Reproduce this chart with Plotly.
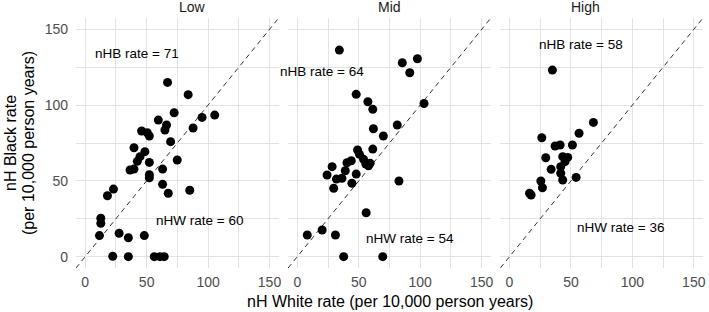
import plotly.graph_objects as go
from plotly.subplots import make_subplots

panels = ["Low", "Mid", "High"]

low_white = [67.0, 83.8, 72.4, 95.1, 105.4, 59.5, 66.2, 64.9, 87.8, 45.9, 50.5, 52.2, 69.5, 39.7,
             48.6, 44.6, 42.4, 52.2, 74.9, 36.5, 39.7, 63.0, 52.2, 52.2, 63.0, 67.6, 85.1, 23.0,
             18.1, 12.7, 12.7, 11.6, 27.6, 35.1, 48.1, 22.4, 35.1, 56.2, 60.8, 64.3]
low_black = [115.0, 106.9, 95.0, 91.9, 93.4, 90.1, 86.9, 83.6, 84.9, 82.9, 81.8, 79.6, 75.9, 71.9,
             69.3, 66.0, 62.9, 62.2, 63.8, 57.2, 57.8, 57.8, 54.1, 52.1, 47.7, 41.8, 43.8, 44.6,
             40.2, 25.3, 22.0, 13.9, 15.4, 12.5, 13.9, 0.2, 0.0, 0.0, 0.0, 0.0]

mid_white = [34.2, 85.4, 97.7, 91.5, 47.9, 57.4, 61.4, 103.1, 61.9, 81.3, 70.0, 61.4, 49.0, 50.6,
             43.9, 53.9, 55.7, 59.2, 28.3, 39.0, 47.9, 24.2, 31.8, 36.3, 44.4, 29.6, 82.7, 56.0,
             8.1, 20.2, 31.0, 37.7, 69.5, 57.9, 40.4]
mid_black = [136.3, 128.0, 130.6, 121.4, 107.1, 102.2, 97.2, 101.1, 84.4, 86.9, 79.6, 71.0, 70.4, 67.5,
             63.3, 64.2, 61.1, 61.6, 59.4, 56.7, 54.5, 53.9, 51.2, 51.7, 48.4, 45.1, 49.9, 29.0,
             14.3, 17.6, 14.3, 0.0, 0.0, 60.0, 62.0]

high_white = [34.9, 68.3, 56.6, 26.3, 37.1, 41.2, 51.2, 29.5, 43.3, 47.4, 45.2, 33.9, 41.7, 41.7,
              43.3, 54.2, 25.5, 26.8, 16.3, 17.6]
high_black = [123.1, 88.6, 81.4, 78.5, 73.0, 73.7, 73.7, 65.3, 66.0, 65.5, 62.7, 57.6, 59.4, 55.0,
              50.6, 52.3, 49.9, 45.5, 41.8, 40.7]

nhb_rates = [71, 64, 58]
nhw_rates = [60, 54, 36]

tick_vals = [0, 25, 50, 75, 100, 125, 150]
tick_text = ["0", "", "50", "", "100", "", "150"]
identity = [-7.5, 157.5]

whites = [low_white, mid_white, high_white]
blacks = [low_black, mid_black, high_black]

# annotation anchor positions (data coords) per panel
nhb_pos = [(42, 134), (20, 122.5), (58, 140)]
nhw_pos = [(93, 23.7), (91.5, 12.1), (90, 19.4)]

fig = make_subplots(rows=1, cols=3, shared_yaxes=True)

grid = "#e3e3e3"
tickcol = "#4d4d4d"
font_family = "Liberation Sans, Arial, sans-serif"

for i in range(3):
    c = i + 1
    fig.add_trace(go.Scatter(x=identity, y=identity, mode="lines",
                             line=dict(color="#333333", width=1, dash="5px,4px"),
                             showlegend=False, hoverinfo="skip"), row=1, col=c)
    fig.add_trace(go.Scatter(x=whites[i], y=blacks[i], mode="markers",
                             marker=dict(color="black", size=9),
                             showlegend=False), row=1, col=c)
    xr = "x" if i == 0 else f"x{c}"
    yr = "y" if i == 0 else f"y{c}"
    fig.add_annotation(x=nhb_pos[i][0], y=nhb_pos[i][1], xref=xr, yref=yr,
                       text=f"nHB rate = {nhb_rates[i]}", showarrow=False,
                       font=dict(size=13.5, color="black", family=font_family))
    fig.add_annotation(x=nhw_pos[i][0], y=nhw_pos[i][1], xref=xr, yref=yr,
                       text=f"nHW rate = {nhw_rates[i]}", showarrow=False,
                       font=dict(size=13.5, color="black", family=font_family))

domains = [[0, 0.3233], [0.3383, 0.6617], [0.6767, 1.0]]
for i in range(3):
    c = i + 1
    fig.update_xaxes(range=[-7.5, 157.5], domain=domains[i], tickvals=tick_vals, ticktext=tick_text,
                     showgrid=True, gridcolor=grid, gridwidth=1, zeroline=False, showline=False,
                     ticks="", ticklabelstandoff=4,
                     tickfont=dict(size=14, color=tickcol, family=font_family),
                     row=1, col=c)
    fig.update_yaxes(range=[-7.5, 157.5], tickvals=tick_vals, ticktext=tick_text,
                     showgrid=True, gridcolor=grid, gridwidth=1, zeroline=False, showline=False,
                     ticks="", ticklabelstandoff=7,
                     tickfont=dict(size=14, color=tickcol, family=font_family),
                     row=1, col=c)
    fig.add_annotation(x=sum(domains[i]) / 2, y=1, xref="paper", yref="paper",
                       text=panels[i], showarrow=False, yanchor="middle", yshift=11,
                       font=dict(size=14, color="#1a1a1a", family=font_family))

fig.add_annotation(x=0.5, y=0, xref="paper", yref="paper", text="nH White rate (per 10,000 person years)",
                   showarrow=False, yanchor="middle", yshift=-33,
                   font=dict(size=16, color="black", family=font_family))
fig.add_annotation(x=0, y=0.5, xref="paper", yref="paper", text="nH Black rate",
                   showarrow=False, textangle=-90, xanchor="center", yanchor="middle", xshift=-66,
                   font=dict(size=16, color="black", family=font_family))
fig.add_annotation(x=0, y=0.5, xref="paper", yref="paper", text="(per 10,000 person years)",
                   showarrow=False, textangle=-90, xanchor="center", yanchor="middle", xshift=-48,
                   font=dict(size=16, color="black", family=font_family))

fig.update_layout(width=709, height=312, margin=dict(l=76, r=3, t=18, b=44),
                  plot_bgcolor="white", paper_bgcolor="white",
                  font=dict(family=font_family))

fig.write_html("out.html", config={"displayModeBar": False},
               post_script="document.body.style.margin='0';document.body.style.overflow='hidden';")
